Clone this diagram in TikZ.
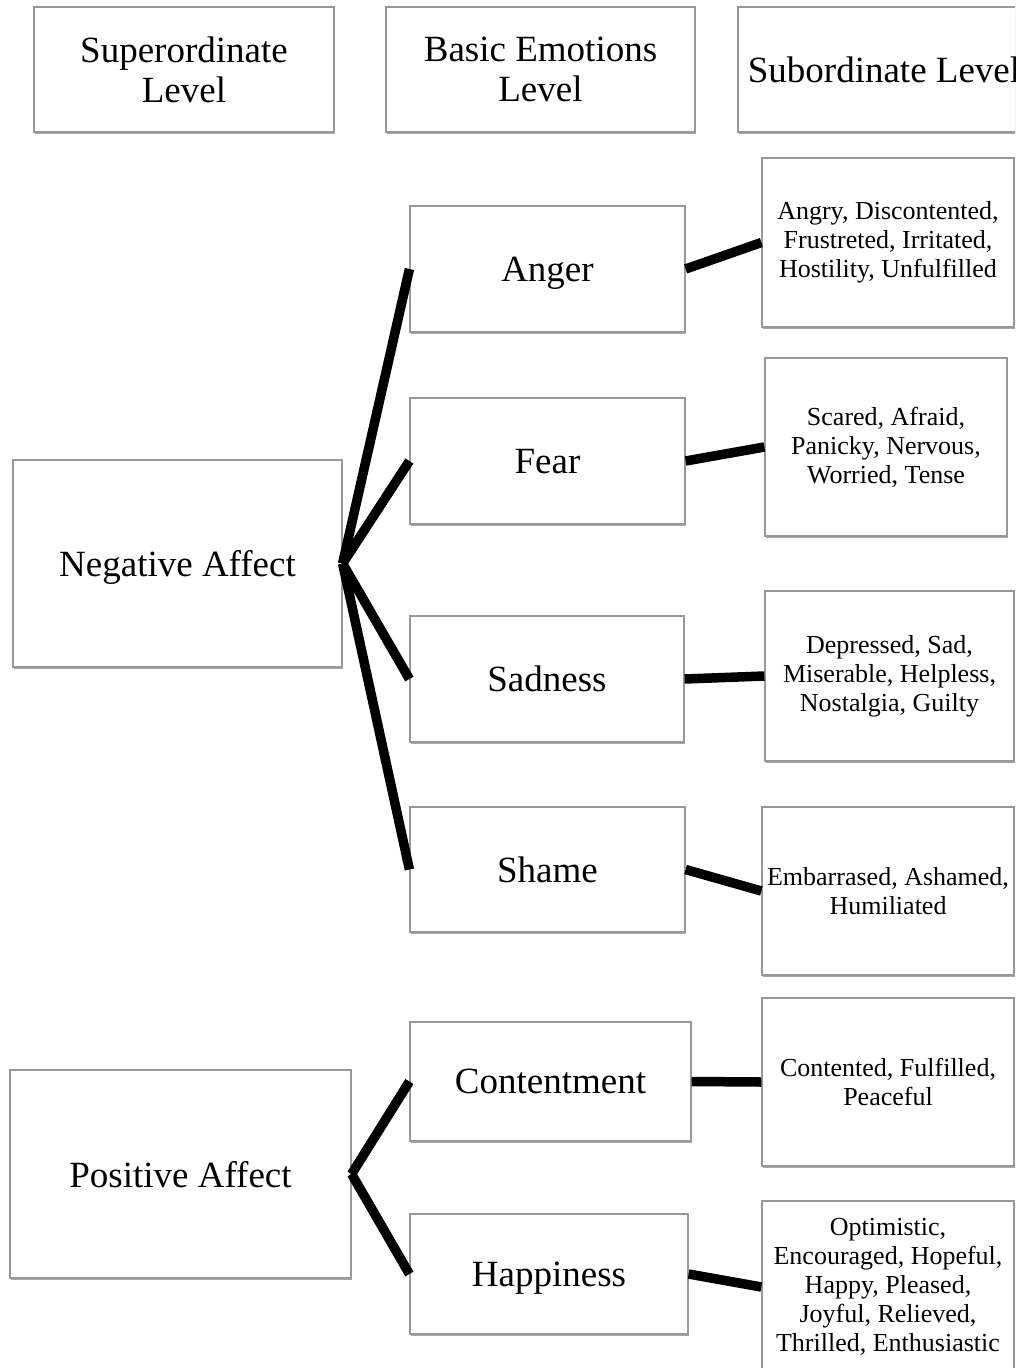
\documentclass[tikz,border=0pt]{standalone}
\usepackage{fontspec}
\setmainfont{Liberation Serif}
\usetikzlibrary{shadows}
\begin{document}
\begin{tikzpicture}[x=1pt,y=-1pt,
  box/.style={draw=black!40, line width=1.2pt, fill=white, rectangle, inner sep=0pt, align=center,
    drop shadow={shadow xshift=1pt, shadow yshift=-2pt, opacity=0.35, fill=black}},
  big/.style={font=\fontsize{37}{40}\selectfont},
  one/.style={text depth=0pt},
  small/.style={font=\fontsize{26}{29}\selectfont},
  conn/.style={line width=9.5pt, black, line cap=butt}]
\useasboundingbox (0,0) rectangle (1015,1368);
\clip (0,0) rectangle (1015,1368);
\fill[white] (0,0) rectangle (1015,1368);
% headers
\node[box,big,minimum width=300pt,minimum height=125pt] (sup) at (184,69.5) {Superordinate\\Level};
\node[box,big,minimum width=309pt,minimum height=125pt] (bas) at (540.5,69.5) {Basic Emotions\\Level};
\node[box,big,one,minimum width=292pt,minimum height=125pt] (subh) at (884,69.5) {Subordinate Level};
% superordinate
\node[box,big,one,minimum width=329pt,minimum height=207pt] (neg) at (177.5,563.5) {Negative Affect};
\node[box,big,one,minimum width=341pt,minimum height=208pt] (pos) at (180.5,1174) {Positive Affect};
% basic
\node[box,big,one,minimum width=275pt,minimum height=126pt] (anger) at (547.5,269) {Anger};
\node[box,big,one,minimum width=275pt,minimum height=126pt] (fear) at (547.5,461) {Fear};
\node[box,big,one,minimum width=274pt,minimum height=126pt] (sad) at (547,679) {Sadness};
\node[box,big,one,minimum width=275pt,minimum height=125pt] (shame) at (547.5,869.5) {Shame};
\node[box,big,one,minimum width=281pt,minimum height=119pt] (cont) at (550.5,1081.5) {Contentment};
\node[box,big,one,minimum width=278pt,minimum height=120pt] (happy) at (549,1274) {Happiness};
% subordinate
\node[box,small,minimum width=252pt,minimum height=169pt] (s1) at (888,242.5) {Angry, Discontented,\\Frustreted, Irritated,\\Hostility, Unfulfilled};
\node[box,small,minimum width=242pt,minimum height=178pt] (s2) at (886,447) {Scared, Afraid,\\Panicky, Nervous,\\Worried, Tense};
\node[box,small,minimum width=249pt,minimum height=170pt] (s3) at (889.5,676) {Depressed, Sad,\\Miserable, Helpless,\\Nostalgia, Guilty};
\node[box,small,minimum width=252pt,minimum height=168pt] (s4) at (888,891) {Embarrased, Ashamed,\\Humiliated};
\node[box,small,minimum width=252pt,minimum height=168pt] (s5) at (888,1082) {Contented, Fulfilled,\\Peaceful};
\node[box,small,minimum width=252pt,minimum height=172pt] (s6) at (888,1287) {Optimistic,\\Encouraged, Hopeful,\\Happy, Pleased,\\Joyful, Relieved,\\Thrilled, Enthusiastic};
% connectors
\draw[conn] (neg.east) -- (anger.west);
\draw[conn] (neg.east) -- (fear.west);
\draw[conn] (neg.east) -- (sad.west);
\draw[conn] (neg.east) -- (shame.west);
\draw[conn] (pos.east) -- (cont.west);
\draw[conn] (pos.east) -- (happy.west);
\draw[conn] (anger.east) -- (s1.west);
\draw[conn] (fear.east) -- (s2.west);
\draw[conn] (sad.east) -- (s3.west);
\draw[conn] (shame.east) -- (s4.west);
\draw[conn] (cont.east) -- (s5.west);
\draw[conn] (happy.east) -- (s6.west);
\end{tikzpicture}
\end{document}
